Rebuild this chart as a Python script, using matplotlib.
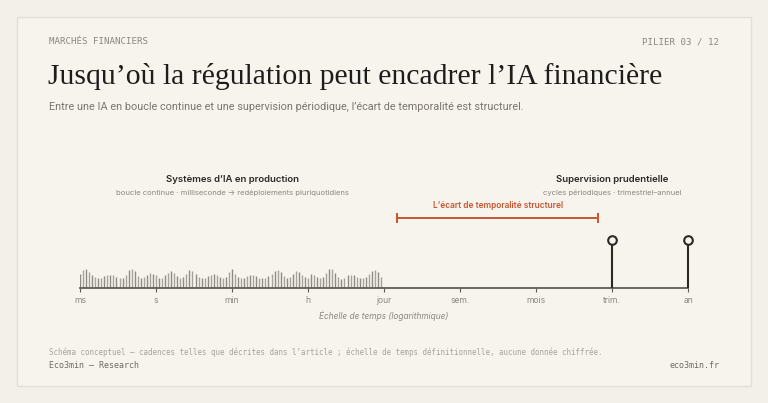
import numpy as np
import matplotlib
matplotlib.use("Agg")
import matplotlib.pyplot as plt
from matplotlib.patches import Rectangle

# --- data -------------------------------------------------------------
scale_labels = ["ms", "s", "min", "h", "jour", "sem.", "mois", "trim.", "an"]

# activity of AI systems in production, ms -> jour (relative intensity)
ia_activity = [
    14, 18, 19, 16, 13, 11, 10, 10, 12, 13, 13, 13, 11, 10, 10, 13, 18, 19, 17, 12,
    10, 11, 13, 15, 14, 13, 10, 10, 13, 15, 17, 15, 12, 10, 11, 14, 18, 17, 14, 11,
    10, 10, 12, 13, 14, 13, 11, 10, 11, 16, 19, 14, 11, 10, 10, 12, 13, 13, 12, 10,
    10, 10, 12, 14, 17, 18, 16, 12, 10, 11, 14, 17, 16, 13, 11, 10, 14, 13, 11, 10,
    11, 15, 19, 19, 15, 11, 9, 10, 13, 13, 13, 11, 10, 10, 11, 14, 17, 18, 16, 11,
]
ia_span = (0, 4)                   # ms .. jour
supervision_at = [7, 8]            # trim., an
supervision_height = 48
gap = (4.17, 6.82)                 # bracket between the two regimes
gap_height = 70

BG_OUT = "#f3f0e9"
BG_CARD = "#f7f4ee"
BORDER = "#e5e0d7"
DARK = "#2b2926"
GREY = "#8c8780"
ACCENT = "#c8552f"

W, H = 768, 403
fig = plt.figure(figsize=(W / 100, H / 100), dpi=100, facecolor=BG_OUT)


def fx(px):
    return px / W


def fy(py):
    return 1 - py / H


# card
fig.patches.append(Rectangle((fx(17), fy(386)), fx(751) - fx(17), fy(17) - fy(386),
                             transform=fig.transFigure, facecolor=BG_CARD,
                             edgecolor=BORDER, linewidth=1.0, zorder=-5))

SANS = ["Inter", "DejaVu Sans"]
MONO = ["DejaVu Sans Mono"]

fig.text(fx(49), fy(42), "MARCHÉS FINANCIERS", family=MONO, fontsize=6.6,
         color=GREY, va="center", ha="left")
fig.text(fx(719), fy(42), "PILIER 03 / 12", family=MONO, fontsize=6.6,
         color=GREY, va="center", ha="right")
fig.text(fx(48), fy(84), "Jusqu’où la régulation peut encadrer l’IA financière",
         family=["Liberation Serif"], fontsize=21.4, color="#1f1d1b", va="baseline",
         ha="left")
fig.text(fx(49), fy(107),
         "Entre une IA en boucle continue et une supervision périodique, "
         "l’écart de temporalité est structurel.",
         family=["Roboto"], fontsize=7.85, color="#7a756e", va="center", ha="left")

fig.text(fx(49), fy(352),
         "Schéma conceptuel — cadences telles que décrites dans l’article ; "
         "échelle de temps définitionnelle, aucune donnée chiffrée.",
         family=MONO, fontsize=5.45, color="#a8a39b", va="center", ha="left")
fig.text(fx(49), fy(366), "Eco3min — Research", family=MONO, fontsize=6.0,
         color="#6f6a63", va="center", ha="left")
fig.text(fx(719), fy(366), "eco3min.fr", family=MONO, fontsize=6.0,
         color="#6f6a63", va="center", ha="right")

# --- timeline axes: x in scale units, y in pixels above baseline -------
ax = fig.add_axes([fx(80), fy(288), fx(688) - fx(80), fy(168) - fy(288)])
ax.set_facecolor("none")
ax.set_xlim(0, len(scale_labels) - 1)
ax.set_ylim(0, 120)

n = len(ia_activity)
xs = ia_span[0] + np.arange(n) * (ia_span[1] - ia_span[0]) / n
cols = ["#8f8a82" if i % 2 == 0 else "#a7a299" for i in range(n)]
ax.vlines(xs, 0, ia_activity, colors=cols, linewidth=1.0, zorder=2)

stems = ax.vlines(supervision_at, 0, supervision_height, colors=DARK, linewidth=1.5,
                  zorder=3, clip_on=False)
stems.set_snap(False)
ax.plot(supervision_at, [supervision_height] * len(supervision_at), "o", ms=6.2,
        mfc=BG_CARD, mec=DARK, mew=1.5, zorder=4, clip_on=False)

ax.plot(gap, [gap_height] * 2, color=ACCENT, lw=1.4, solid_capstyle="butt")
ax.vlines(gap, gap_height - 5, gap_height + 5, colors=ACCENT, lw=1.4)
ax.text(np.mean(gap), gap_height + 13, "L’écart de temporalité structurel",
        family=SANS, fontsize=6.0, fontweight="semibold", color=ACCENT,
        ha="center", va="center")

ax.text(np.mean(ia_span), 108, "Systèmes d’IA en production", family=SANS,
        fontsize=6.9, fontweight="semibold", color=DARK, ha="center", va="center")
ax.text(np.mean(ia_span), 95,
        "boucle continue · milliseconde → redéploiements pluriquotidiens",
        family=SANS, fontsize=5.5, color=GREY, ha="center", va="center")
ax.text(supervision_at[0], 108, "Supervision prudentielle", family=SANS,
        fontsize=6.9, fontweight="semibold", color=DARK, ha="center", va="center")
ax.text(supervision_at[0], 95, "cycles périodiques · trimestriel–annuel",
        family=SANS, fontsize=5.5, color=GREY, ha="center", va="center")

for s in ["top", "right", "left"]:
    ax.spines[s].set_visible(False)
ax.spines["bottom"].set_color("#605b55")
ax.spines["bottom"].set_linewidth(1.3)
ax.set_yticks([])
ax.set_xticks(range(len(scale_labels)))
ax.set_xticklabels(scale_labels, family=SANS, fontsize=6.2, color=GREY)
ax.tick_params(axis="x", length=3, width=0.8, color="#605b55", pad=2.5)
ax.set_xlabel("Échelle de temps (logarithmique)", family=SANS, fontsize=6.0,
              style="italic", color=GREY, labelpad=4)

fig.savefig("out.png", dpi=100, facecolor=BG_OUT)
